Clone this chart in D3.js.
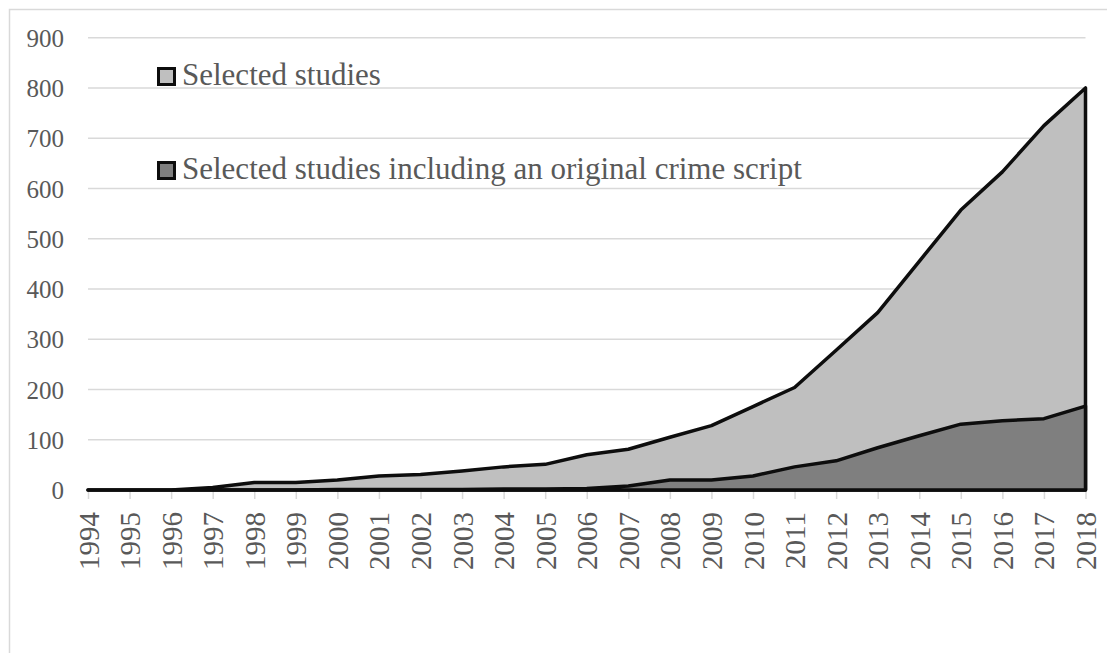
<!DOCTYPE html>
<html>
<head>
<meta charset="utf-8">
<script src="https://cdn.jsdelivr.net/npm/d3@7"></script>
<style>
	body { margin: 0; background: #fff; }
	svg { display: block; }
	.grid line { stroke: #d9d9d9; stroke-width: 1.5; }
	.lbl { font-family: "Liberation Serif", serif; fill: #595959; }
</style>
</head>
<body>
<script>
// chart data
var years = [1994, 1995, 1996, 1997, 1998, 1999, 2000, 2001, 2002, 2003, 2004, 2005,
	2006, 2007, 2008, 2009, 2010, 2011, 2012, 2013, 2014, 2015, 2016, 2017, 2018];
var selected = [0, 0, 0, 5, 15, 15, 20, 28, 31, 38, 46, 51,
	70, 81, 105, 128, 166, 204, 278, 353, 455, 557, 633, 725, 800];
var withScript = [0, 0, 0, 0, 0, 0, 1, 1, 1, 1, 2, 2,
	3, 8, 20, 20, 28, 46, 58, 84, 108, 131, 138, 142, 167];
var yTicks = [0, 100, 200, 300, 400, 500, 600, 700, 800, 900];
var seriesNames = ["Selected studies", "Selected studies including an original crime script"];
var seriesColors = ["#bfbfbf", "#7f7f7f"];

window.onload = drawChart;

function drawChart(){
	var width = 1107,
		height = 653;

	var svg = d3.select("body")
		.append("svg")
		.attr("width", width)
		.attr("height", height);

	// outer chart frame (runs off the right/bottom of the picture)
	svg.append("rect")
		.attr("x", 9.5)
		.attr("y", 9.5)
		.attr("width", width + 20)
		.attr("height", height + 20)
		.attr("fill", "none")
		.attr("stroke", "#d9d9d9")
		.attr("stroke-width", 1.5);

	var x = d3.scalePoint()
		.domain(years)
		.range([88, 1085.5]);

	var y = d3.scaleLinear()
		.domain([0, 900])
		.range([490, 37.7]);

	// horizontal gridlines
	svg.append("g")
		.attr("class", "grid")
		.selectAll("line")
		.data(yTicks.slice(1))
		.enter()
		.append("line")
		.attr("x1", x.range()[0])
		.attr("x2", x.range()[1])
		.attr("y1", function(d){ return y(d); })
		.attr("y2", function(d){ return y(d); });

	// y axis labels
	var yAxis = d3.axisLeft(y)
		.tickValues(yTicks)
		.tickSize(0)
		.tickPadding(0);
	var gy = svg.append("g")
		.attr("transform", "translate(64,0)")
		.call(yAxis);
	gy.select(".domain").remove();
	gy.selectAll("text")
		.attr("class", "lbl")
		.attr("font-size", 25)
		.attr("dy", "0.35em")
		.attr("font-family", null);

	// x axis line and ticks
	var xAxis = d3.axisBottom(x)
		.tickSize(9)
		.tickSizeOuter(0);
	var gx = svg.append("g")
		.attr("transform", "translate(0," + y(0) + ")")
		.call(xAxis);
	gx.select(".domain").attr("stroke", "#bfbfbf").attr("stroke-width", 1.5);
	gx.selectAll(".tick line").attr("stroke", "#d9d9d9").attr("stroke-width", 1.5);
	gx.selectAll(".tick text")
		.attr("class", "lbl")
		.attr("font-family", null)
		.attr("font-size", 29)
		.attr("text-anchor", "end")
		.attr("x", 0)
		.attr("y", 0)
		.attr("dy", null)
		.attr("transform", "translate(10,22) rotate(-90)");

	// areas, big one behind
	var area = d3.area()
		.x(function(d, i){ return x(years[i]); })
		.y0(y(0))
		.y1(function(d){ return y(d); });

	var series = [selected, withScript];
	svg.selectAll(".series")
		.data(series)
		.enter()
		.append("path")
		.attr("class", "series")
		.attr("d", function(d){ return area(d); })
		.attr("fill", function(d, i){ return seriesColors[i]; })
		.attr("stroke", "#0d0d0d")
		.attr("stroke-width", 3.5)
		.attr("stroke-linejoin", "round");

	// legend
	var legend = svg.selectAll(".legend")
		.data(seriesNames)
		.enter()
		.append("g")
		.attr("class", "legend")
		.attr("transform", function(d, i){ return "translate(157," + (67 + i * 94) + ")"; });

	legend.append("rect")
		.attr("x", 1.5)
		.attr("y", 1.5)
		.attr("width", 16)
		.attr("height", 16)
		.attr("fill", function(d, i){ return seriesColors[i]; })
		.attr("stroke", "#0d0d0d")
		.attr("stroke-width", 3);

	legend.append("text")
		.attr("class", "lbl")
		.attr("x", 25)
		.attr("y", 18)
		.attr("font-size", 31)
		.text(function(d){ return d; });
}
</script>
</body>
</html>
